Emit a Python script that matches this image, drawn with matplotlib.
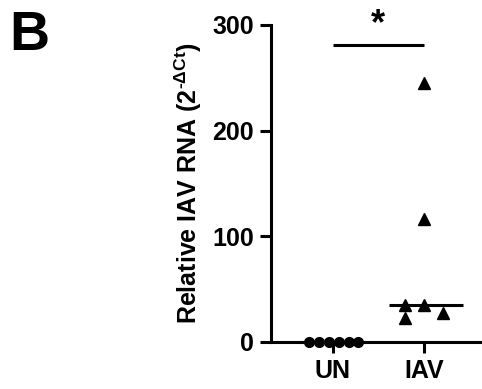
import numpy as np
import matplotlib
matplotlib.use("Agg")
from matplotlib import pyplot as plt

plt.rcParams['font.family'] = ['Liberation Sans', 'DejaVu Sans']
plt.rcParams['mathtext.fontset'] = 'custom'
plt.rcParams['mathtext.rm'] = 'Liberation Sans:bold'
plt.rcParams['mathtext.bf'] = 'Liberation Sans:bold'
plt.rcParams['mathtext.it'] = 'Liberation Sans:bold'
plt.rcParams['mathtext.default'] = 'bf'

# data
groups = ["UN", "IAV"]
un_x = [0.74, 0.85, 0.96, 1.07, 1.18, 1.28]
un_vals = [0, 0, 0, 0, 0, 0]
iav_x = [2.0, 2.0, 1.79, 2.0, 1.79, 2.21]
iav_vals = [245, 116, 35, 35, 23, 27]

fig = plt.figure(figsize=(4.82, 3.89), dpi=100)
ax = fig.add_axes([0.562, 0.121, 0.438, 0.815])

ax.plot(un_x, un_vals, 'o', color='black', ms=7, clip_on=False, zorder=3)
ax.plot(iav_x, iav_vals, '^', color='black', ms=8, clip_on=False, zorder=3)

# medians
ax.hlines(np.median(iav_vals), 1.62, 2.43, color='black', lw=2.2)
ax.hlines(np.median(un_vals), 0.62, 1.38, color='black', lw=2.2, clip_on=False)

# significance bar
ax.hlines(281, 1.0, 2.0, color='black', lw=2.2)
ax.text(1.5, 284, "*", ha='center', va='bottom', fontsize=26, fontweight='bold')

ax.set_xlim(0.32, 2.64)
ax.set_ylim(0, 300)
ax.set_yticks([0, 100, 200, 300])
ax.set_xticks([1, 2])
ax.set_xticklabels(groups)

for s in ['top', 'right']:
    ax.spines[s].set_visible(False)
for s in ['left', 'bottom']:
    ax.spines[s].set_linewidth(2.2)
ax.tick_params(width=2.2, length=8, labelsize=18, pad=4)
for lab in ax.get_xticklabels() + ax.get_yticklabels():
    lab.set_fontweight('bold')

ax.set_ylabel(r"Relative IAV RNA (2$^{\text{-}\Delta Ct}$)", fontsize=18,
              fontweight='bold', labelpad=6)

fig.text(0.02, 0.975, "B", fontsize=40, fontweight='bold', va='top', ha='left')

fig.savefig("out.png", dpi=100)
